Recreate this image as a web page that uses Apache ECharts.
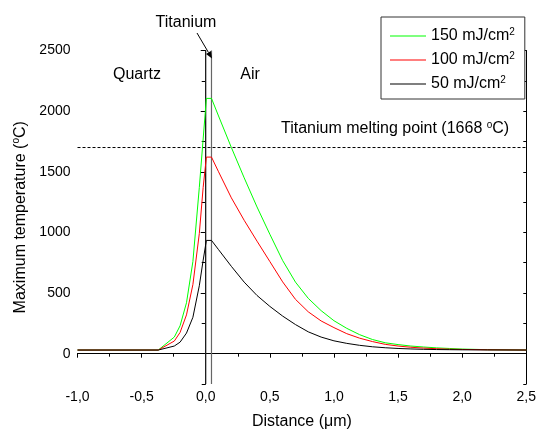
<!DOCTYPE html>
<html>
<head>
<meta charset="utf-8">
<script src="https://cdn.jsdelivr.net/npm/echarts@6/dist/echarts.min.js"></script>
<style>html,body{margin:0;padding:0;background:#fff;}#c{width:539px;height:435px;}</style>
</head>
<body>
<div id="c"></div>
<script>
// ---- data ----
const xValues = [-1.0, -0.37, -0.245, -0.2, -0.15, -0.1, -0.05, -0.02, 0.005, 0.045,
  0.1, 0.2, 0.3, 0.4, 0.5, 0.6, 0.7, 0.8, 0.9, 1.0, 1.1, 1.2, 1.3, 1.4, 1.5, 1.6, 1.7, 1.8, 1.9, 2.0, 2.2, 2.5];
const temp150 = [30, 30, 137, 230, 420, 760, 1370, 1770, 2105, 2105,
  1960, 1700, 1450, 1210, 985, 768, 590, 456, 355, 272, 209, 157, 117, 90, 75, 63, 55, 48, 43, 38, 33, 30];
const temp100 = [30, 30, 104, 175, 320, 570, 990, 1370, 1621, 1621,
  1500, 1285, 1100, 928, 760, 592, 448, 345, 270, 215, 165, 128, 100, 77, 63, 53, 46, 41, 37, 35, 32, 30];
const temp50 = [30, 30, 63, 95, 170, 300, 560, 770, 934, 934,
  858, 720, 590, 480, 390, 310, 240, 180, 137, 106, 85, 69, 57, 49, 43, 39, 36, 34, 33, 32, 31, 30];
const seriesNames = ['150 mJ/cm2', '100 mJ/cm2', '50 mJ/cm2'];
const titaniumEdges = [0, 0.045];
const meltingLineY = 1700;
const xTicks = [-1.0, -0.5, 0.0, 0.5, 1.0, 1.5, 2.0, 2.5];
const yTicks = [0, 500, 1000, 1500, 2000, 2500];
const xRange = [-1.0, 2.5];
const yRange = [-250, 2500];

const FONT = '"Liberation Sans", Arial, sans-serif';
const chart = echarts.init(document.getElementById('c'), null, {renderer: 'canvas'});

function pairs(xs, ys) { return xs.map((x, i) => [x, ys[i]]); }
const colors = ['#00ff00', '#ff0000', '#000000'];
const dataSets = [temp150, temp100, temp50];

const series = dataSets.map((ys, i) => ({
  name: seriesNames[i], type: 'line', data: pairs(xValues, ys),
  symbol: 'none', showSymbol: false, smooth: false,
  lineStyle: {color: colors[i], width: 1}, itemStyle: {color: colors[i]},
  z: 5 + i, animation: false
}));
titaniumEdges.forEach((tx, i) => {
  series.push({
    name: 'ti' + i, type: 'line', data: [[tx, yRange[0]], [tx, yRange[1]]],
    symbol: 'none', lineStyle: {color: i === 0 ? '#222' : '#666', width: 1.2},
    z: 3, animation: false, silent: true
  });
});
series.push({
  name: 'melt', type: 'line', data: [[xRange[0], meltingLineY], [xRange[1], meltingLineY]],
  symbol: 'none', lineStyle: {color: '#000', width: 1, type: [3, 2]}, z: 2, animation: false, silent: true
});

const txt = {fontFamily: FONT, fontSize: 16, color: '#000'};
const rich = {
  n: {fontFamily: FONT, fontSize: 16, color: '#000', lineHeight: 18},
  s: {fontFamily: FONT, fontSize: 10, color: '#000', verticalAlign: 'top', lineHeight: 10}
};
const fmtX = v => (Math.abs(v) < 1e-9 ? 0 : v).toFixed(1).replace('.', ',');

// arrow geometry
const a0 = [197, 33], a1 = [212, 58.5];
const dx = a1[0] - a0[0], dy = a1[1] - a0[1], L = Math.hypot(dx, dy);
const ux = dx / L, uy = dy / L, hl = 7, hw = 2.8;
const bx = a1[0] - ux * hl, by = a1[1] - uy * hl;

chart.setOption({
  animation: false,
  backgroundColor: '#fff',
  grid: {left: 77.5, right: 5, top: 50.5, bottom: 50.3, containLabel: false},
  legend: {
    data: seriesNames, orient: 'vertical', left: 381, top: 17,
    padding: [10, 10, 7, 9], itemGap: 7, itemWidth: 36, itemHeight: 1.2,
    icon: 'rect',
    borderColor: '#333', borderWidth: 1, backgroundColor: '#fff', borderRadius: 0,
    formatter: name => '{n|' + name.slice(0, -1) + '}{s|' + name.slice(-1) + '}',
    textStyle: {fontFamily: FONT, fontSize: 16, color: '#000', rich: rich},
    selectedMode: false, z: 20
  },
  xAxis: [{
    type: 'value', position: 'bottom', min: xRange[0], max: xRange[1], interval: 0.5,
    name: 'Distance (\u03bcm)', nameLocation: 'middle', nameGap: 30,
    nameTextStyle: txt,
    axisLine: {lineStyle: {color: '#000', width: 1}},
    axisTick: {inside: false, length: 4, lineStyle: {color: '#000'}},
    minorTick: {show: true, splitNumber: 2, length: 3, lineStyle: {color: '#000'}},
    axisLabel: {formatter: fmtX, fontFamily: FONT, fontSize: 14, color: '#000', margin: 6},
    splitLine: {show: false}, minorSplitLine: {show: false}
  }, {
    type: 'value', position: 'top', min: xRange[0], max: xRange[1], interval: 0.5,
    axisLine: {lineStyle: {color: '#000', width: 1}},
    axisTick: {inside: true, length: 3, lineStyle: {color: '#000'}},
    minorTick: {show: true, splitNumber: 2, length: 2, lineStyle: {color: '#000'}},
    axisLabel: {show: false}, splitLine: {show: false}
  }],
  yAxis: [{
    type: 'value', position: 'left', min: yRange[0], max: yRange[1],
    name: '{n|Maximum temperature (}{s|o}{n|C)}', nameLocation: 'middle', nameGap: 47,
    nameTextStyle: {fontFamily: FONT, fontSize: 16, color: '#000', rich: rich},
    axisLine: {lineStyle: {color: '#000', width: 1}},
    axisTick: {customValues: yTicks, inside: false, length: 5, lineStyle: {color: '#000'}},
    axisLabel: {customValues: yTicks, formatter: v => String(v), fontFamily: FONT, fontSize: 14, color: '#000', margin: 7},
    splitLine: {show: false}
  }, {
    type: 'value', position: 'left', min: yRange[0], max: yRange[1], interval: 250,
    axisLine: {show: false},
    axisTick: {inside: false, length: 4, lineStyle: {color: '#000'}},
    axisLabel: {show: false}, splitLine: {show: false}
  }, {
    type: 'value', position: 'right', min: yRange[0], max: yRange[1], interval: 250,
    axisLine: {lineStyle: {color: '#000', width: 1}},
    axisTick: {inside: true, length: 3, lineStyle: {color: '#000'}},
    axisLabel: {show: false}, splitLine: {show: false}
  }],
  series: series,
  graphic: [
    {type: 'text', x: 186, y: 23, z: 30, style: {text: 'Titanium', align: 'center', verticalAlign: 'middle', font: '16px ' + FONT, fill: '#000'}},
    {type: 'text', x: 137, y: 75, z: 30, style: {text: 'Quartz', align: 'center', verticalAlign: 'middle', font: '16px ' + FONT, fill: '#000'}},
    {type: 'text', x: 250, y: 75, z: 30, style: {text: 'Air', align: 'center', verticalAlign: 'middle', font: '16px ' + FONT, fill: '#000'}},
    {type: 'text', x: 281, y: 129, z: 30, style: {
      text: '{n|Titanium melting point (1668 }{s|o}{n|C)}', align: 'left', verticalAlign: 'middle',
      rich: {
        n: {font: '16px ' + FONT, fill: '#000', lineHeight: 18},
        s: {font: '10px ' + FONT, fill: '#000', verticalAlign: 'top', lineHeight: 10}
      }}},
    {type: 'line', z: 30, shape: {x1: a0[0], y1: a0[1], x2: bx, y2: by}, style: {stroke: '#000', lineWidth: 1}},
    {type: 'polygon', z: 30, shape: {points: [[a1[0], a1[1]], [bx + uy * hw, by - ux * hw], [bx - uy * hw, by + ux * hw]]}, style: {fill: '#000'}}
  ]
});
</script>
</body>
</html>
